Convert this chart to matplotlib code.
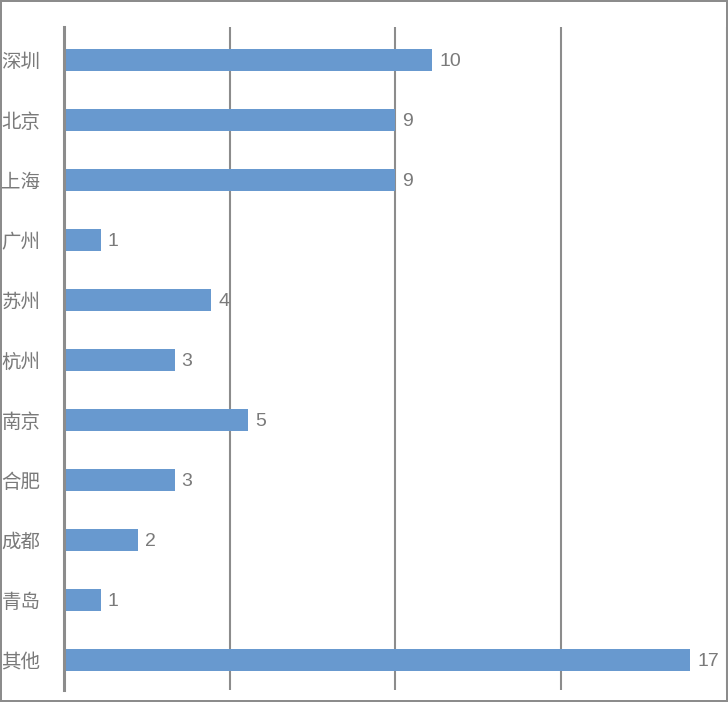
import numpy as np
from matplotlib import pyplot as plt

plt.rcParams['font.family'] = ['Noto Sans CJK SC', 'DejaVu Sans']

# données
cities = ["深圳", "北京", "上海", "广州", "苏州", "杭州", "南京", "合肥", "成都", "青岛", "其他"]
counts = [10, 9, 9, 1, 4, 3, 5, 3, 2, 1, 17]
grid_ticks = [0, 4.5, 9, 13.5, 18]

text_color = "#7a7a7a"
line_color = "#8c8c8c"

fig = plt.figure(figsize=(7.28, 7.02), dpi=100, linewidth=1.5, edgecolor="#8c8c8c")
ax = fig.add_axes([64 / 728, 12 / 702, 663 / 728, 663 / 702])

y = np.arange(len(cities))
bars = ax.barh(y, counts, height=0.37, color="#6899cf", zorder=3)
labels = ax.bar_label(bars, padding=5, color=text_color, fontsize=14,
					  family=["Liberation Sans", "DejaVu Sans"])
for t in labels:
	t.set_verticalalignment("center_baseline")

ax.set_xlim(0, 18)
ax.set_ylim(len(cities) - 0.5, -0.55)
ax.set_xticks(grid_ticks)
ax.set_xticklabels([])
ax.tick_params(axis="x", length=0)
ax.grid(axis="x", color=line_color, linewidth=1.5, zorder=0)

ax.set_yticks(y)
ax.set_yticklabels(cities, color=text_color, fontsize=14, ha="left")
ax.tick_params(axis="y", length=0, pad=45)

for side in ["top", "right", "bottom"]:
	ax.spines[side].set_visible(False)
ax.spines["left"].set_color(line_color)
ax.spines["left"].set_linewidth(2.2)
ax.spines["left"].set_zorder(4)

fig.savefig("out.png", dpi=100, edgecolor=fig.get_edgecolor())
